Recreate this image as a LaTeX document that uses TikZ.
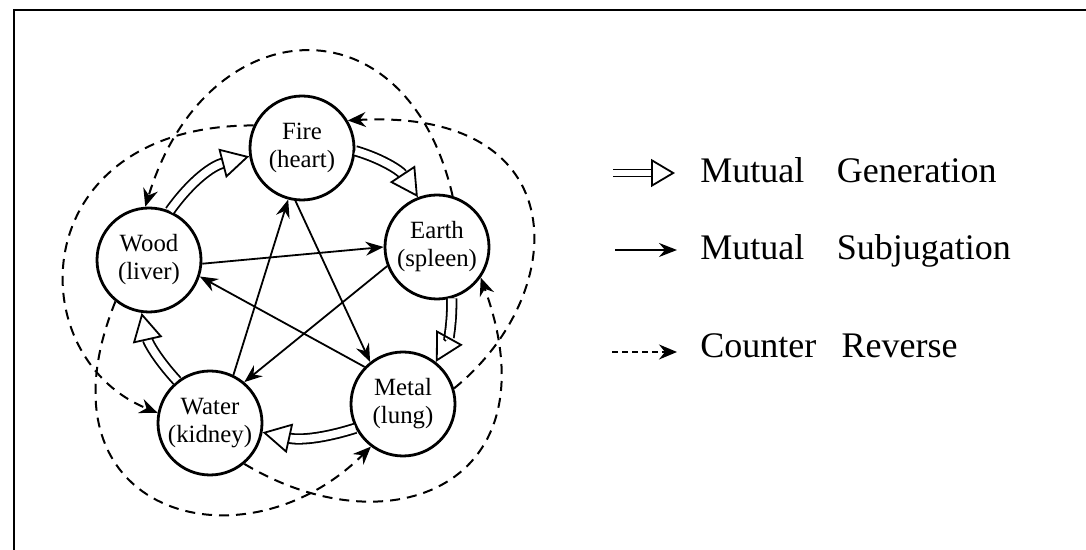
\documentclass[tikz,border=0pt]{standalone}
\usepackage{fontspec}
\setmainfont{Liberation Serif}
\usetikzlibrary{arrows.meta}
\tikzset{
	elem/.style={draw, circle, line width=1.4pt, minimum size=52pt, inner sep=0pt,
		align=center, font=\fontsize{12.4}{14}\selectfont},
	gen/.style={double, line width=0.9pt, double distance=3.8pt,
		-{Triangle[open, length=14pt, width=15pt, line width=0.9pt]}},
	sub/.style={line width=0.9pt, -{Stealth[length=9pt, width=7pt, inset=3pt]}},
	rev/.style={line width=1pt, dash pattern=on 5pt off 3.5pt,
		-{Stealth[length=9pt, width=7.5pt, inset=3pt]}},
	lgd/.style={anchor=base west, inner sep=0pt, font=\fontsize{18}{20}\selectfont},
}
\begin{document}
\begin{tikzpicture}[x=0.5pt, y=0.5pt]
	\useasboundingbox (0,0) rectangle (1086,550);
	\draw[line width=1.3pt] (1086,540) -- (14,540) -- (14,0);

	\node[elem] at (302,402) (fire) {Fire\\(heart)};
	\node[elem] at (437,303) (earth) {Earth\\(spleen)};
	\node[elem] at (149,290) (wood) {Wood\\(liver)};
	\node[elem] at (210,127) (water) {Water\\(kidney)};
	\node[elem] at (403,146) (metal) {Metal\\(lung)};

	\draw[gen] (wood.67) to[bend left=20] (fire.189);
	\draw[gen] (fire.357) to[bend left=20] (earth.111);
	\draw[gen] (earth.286) to[bend left=15] (metal.52);
	\draw[gen] (metal.207) to[bend left=15] (water.350);
	\draw[gen] (water.128) to[bend left=15] (wood.262);

	\draw[sub] (wood.356) -- (earth.180);
	\draw[sub] (earth.201) -- (water.50);
	\draw[sub] (water.64) -- (fire.255);
	\draw[sub] (fire.263) -- (metal.128);
	\draw[sub] (metal.136) -- (wood.342);

	\draw[rev] (earth.73) .. controls +(103:207) and +(73:207) .. (wood.94);
	\draw[rev] (fire.155) .. controls +(180:230) and +(158:150) .. (water.169);
	\draw[rev] (wood.231) .. controls +(248:230) and +(225:180) .. (metal.233);
	\draw[rev] (water.310) .. controls +(329:170) and +(290:220) .. (earth.325);
	\draw[rev] (metal.17) .. controls +(39:150) and +(3:230) .. (fire.31);

	\coordinate (g0) at (613,377);
	\coordinate (g1) at (675,377);
	\coordinate (s0) at (615,300);
	\coordinate (s1) at (677,300);
	\coordinate (r0) at (612,198);
	\coordinate (r1) at (677,198);
	\draw[gen, double distance=2.6pt, -{Triangle[open, length=12pt, width=14pt, line width=0.9pt]}] (g0) -- (g1);
	\draw[sub] (s0) -- (s1);
	\draw[rev, dash pattern=on 3pt off 2pt] (r0) -- (r1);
	\node[lgd] at (700,367) (lgen) {Mutual\hspace{0.9em}Generation};
	\node[lgd] at (700,290) (lsub) {Mutual\hspace{0.9em}Subjugation};
	\node[lgd] at (700,192) (lrev) {Counter\hspace{0.7em}Reverse};
\end{tikzpicture}
\end{document}
